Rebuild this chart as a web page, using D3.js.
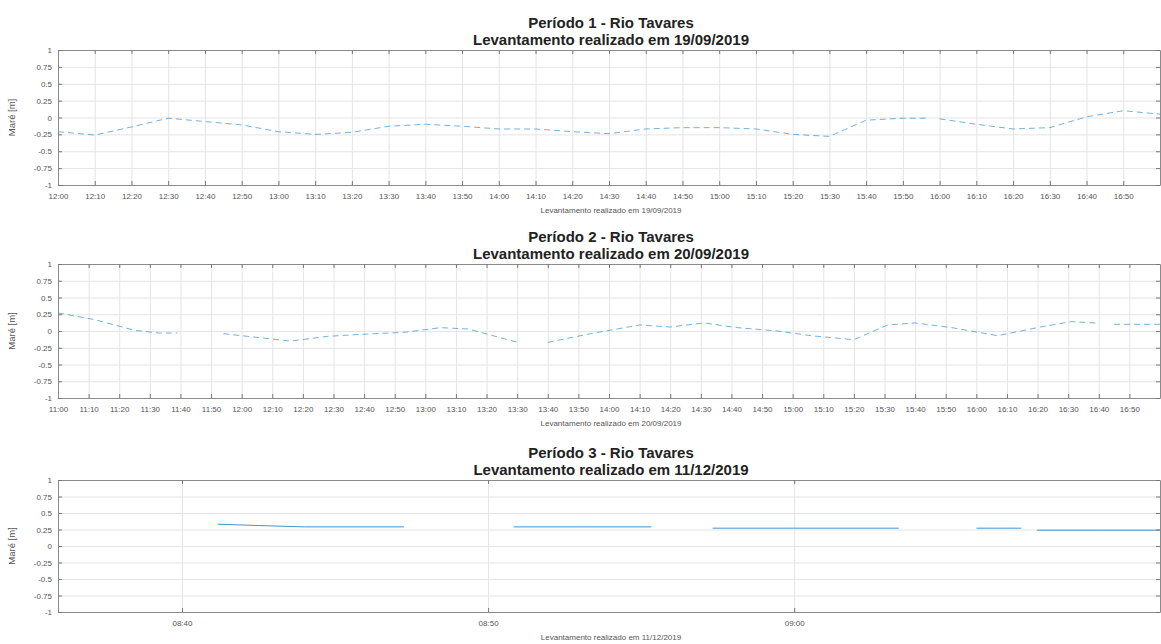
<!DOCTYPE html>
<html>
<head>
<meta charset="utf-8">
<script src="https://cdn.jsdelivr.net/npm/d3@7"></script>
<style>
  body { margin: 0; background: #fff; }
  text { font-family: "Liberation Sans", Arial, sans-serif; }
</style>
</head>
<body>
<div id="plot"></div>
<script>
// values
const yTicks = [1, 0.75, 0.5, 0.25, 0, -0.25, -0.5, -0.75, -1];
const yTickLabels = ["1", "0.75", "0.5", "0.25", "0", "-0.25", "-0.5", "-0.75", "-1"];

const p1Times = ["12:00","12:10","12:20","12:30","12:40","12:50","13:00","13:10","13:20","13:30","13:40","13:50","14:00","14:10","14:20","14:30","14:40","14:50","15:00","15:10","15:20","15:30","15:40","15:50","15:57","15:58","16:00","16:10","16:20","16:30","16:40","16:50","17:00"];
const p1Values = [-0.21,-0.26,-0.14,-0.01,-0.06,-0.11,-0.21,-0.25,-0.22,-0.13,-0.1,-0.13,-0.17,-0.17,-0.21,-0.24,-0.17,-0.15,-0.15,-0.17,-0.25,-0.28,-0.04,-0.01,-0.01,null,-0.02,-0.1,-0.17,-0.15,0.01,0.1,0.05];
const p1TickLabels = ["12:00","12:10","12:20","12:30","12:40","12:50","13:00","13:10","13:20","13:30","13:40","13:50","14:00","14:10","14:20","14:30","14:40","14:50","15:00","15:10","15:20","15:30","15:40","15:50","16:00","16:10","16:20","16:30","16:40","16:50"];

const p2Times = ["11:00","11:12","11:25","11:33","11:39","11:40","11:54","12:02","12:16","12:28","12:39","12:53","13:05","13:14","13:31","13:32","13:40","13:54","14:10","14:20","14:31","14:42","14:55","15:06","15:20","15:31","15:40","15:52","16:07","16:21","16:31","16:39","16:40","16:45","17:00"];
const p2Values = [0.27,0.17,0.01,-0.03,-0.03,null,-0.04,-0.08,-0.15,-0.08,-0.05,-0.02,0.05,0.03,-0.18,null,-0.17,-0.04,0.09,0.06,0.12,0.05,0,-0.07,-0.13,0.09,0.12,0.05,-0.07,0.06,0.14,0.12,null,0.1,0.1];
const p2TickLabels = ["11:00","11:10","11:20","11:30","11:40","11:50","12:00","12:10","12:20","12:30","12:40","12:50","13:00","13:10","13:20","13:30","13:40","13:50","14:00","14:10","14:20","14:30","14:40","14:50","15:00","15:10","15:20","15:30","15:40","15:50","16:00","16:10","16:20","16:30","16:40","16:50"];

const p3Times = ["08:41:10","08:42:30","08:44:00","08:47:15","08:48:00","08:50:50","08:53:00","08:55:20","08:56:00","08:57:20","09:00:00","09:03:25","09:04:00","09:05:57","09:07:25","09:07:40","09:07:56","09:10:00","09:11:57"];
const p3Values = [0.33,0.31,0.29,0.29,null,0.29,0.29,0.29,null,0.27,0.27,0.27,null,0.27,0.27,null,0.24,0.24,0.24];
const p3TickLabels = ["08:40","08:50","09:00"];

const width = 1161, height = 644;
const left = 58, right = 1160;

const parseHM = d3.timeParse("%H:%M");
const parseHMS = d3.timeParse("%H:%M:%S");

const svg = d3.select("div#plot")
  .append("svg")
    .attr("width", width)
    .attr("height", height)
    .style("background", "#fff");

function drawPanel(cfg) {
  const x = d3.scaleTime().domain(cfg.domain).range([left, right]);
  const y = d3.scaleLinear().domain([-1, 1]).range([cfg.bottom, cfg.top]);
  const tickDates = cfg.tickLabels.map(parseHM);
  const h = cfg.bottom - cfg.top;

  const g = svg.append("g");

  // grid
  g.append("g")
    .attr("transform", `translate(0,${cfg.bottom})`)
    .call(d3.axisBottom(x).tickValues(tickDates).tickSize(-h).tickFormat(""))
    .call(a => a.select(".domain").remove())
    .call(a => a.selectAll("line").attr("stroke", "#e4e4e4"));
  g.append("g")
    .attr("transform", `translate(${left},0)`)
    .call(d3.axisLeft(y).tickValues(yTicks).tickSize(-(right - left)).tickFormat(""))
    .call(a => a.select(".domain").remove())
    .call(a => a.selectAll("line").attr("stroke", "#e4e4e4"));

  // data line
  const data = cfg.times.map((t, i) => ({ t: cfg.parse(t), v: cfg.values[i] }));
  const line = d3.line()
    .defined(d => d.v !== null)
    .x(d => x(d.t))
    .y(d => y(d.v));
  g.append("path")
    .datum(data)
    .attr("d", line)
    .attr("fill", "none")
    .attr("stroke", "#0072BD")
    .attr("stroke-opacity", cfg.dashed ? 0.55 : 0.75)
    .attr("stroke-width", 1)
    .attr("stroke-dasharray", cfg.dashed ? "6,4" : null);

  // axes, ticks pointing in
  const fmtY = (d, i) => yTickLabels[i];
  const fmtX = (d, i) => cfg.tickLabels[i];
  const ax = [
    g.append("g").attr("transform", `translate(0,${cfg.bottom})`)
      .call(d3.axisBottom(x).tickValues(tickDates).tickSizeInner(-4).tickSizeOuter(0).tickPadding(8).tickFormat(fmtX)),
    g.append("g").attr("transform", `translate(0,${cfg.top})`)
      .call(d3.axisTop(x).tickValues(tickDates).tickSizeInner(-4).tickSizeOuter(0).tickFormat("")),
    g.append("g").attr("transform", `translate(${left},0)`)
      .call(d3.axisLeft(y).tickValues(yTicks).tickSizeInner(-4).tickSizeOuter(0).tickPadding(6).tickFormat(fmtY)),
    g.append("g").attr("transform", `translate(${right},0)`)
      .call(d3.axisRight(y).tickValues(yTicks).tickSizeInner(-4).tickSizeOuter(0).tickFormat(""))
  ];
  ax.forEach(a => {
    a.select(".domain").attr("stroke", "#8a8a8a");
    a.selectAll(".tick line").attr("stroke", "#777");
    a.selectAll("text").attr("fill", "#555").style("font-size", "8px");
  });

  // titles
  g.append("text")
    .attr("x", 611).attr("y", cfg.top - 22)
    .attr("text-anchor", "middle")
    .style("font-size", "15px").style("font-weight", "bold")
    .attr("fill", "#222")
    .text(cfg.title1);
  g.append("text")
    .attr("x", 611).attr("y", cfg.top - 5)
    .attr("text-anchor", "middle")
    .style("font-size", "15px").style("font-weight", "bold")
    .attr("fill", "#222")
    .text(cfg.title2);

  // x label
  g.append("text")
    .attr("x", 611).attr("y", cfg.bottom + 28)
    .attr("text-anchor", "middle")
    .style("font-size", "8px")
    .attr("fill", "#555")
    .text(cfg.xlabel);

  // y label
  g.append("text")
    .attr("transform", `translate(15,${(cfg.top + cfg.bottom) / 2}) rotate(-90)`)
    .attr("text-anchor", "middle")
    .style("font-size", "9.5px")
    .attr("fill", "#555")
    .text("Maré [m]");
}

drawPanel({
  top: 50, bottom: 185,
  domain: [parseHM("12:00"), parseHM("17:00")],
  times: p1Times, values: p1Values, parse: parseHM, dashed: true,
  tickLabels: p1TickLabels,
  title1: "Período 1 - Rio Tavares",
  title2: "Levantamento realizado em 19/09/2019",
  xlabel: "Levantamento realizado em 19/09/2019"
});

drawPanel({
  top: 264, bottom: 398,
  domain: [parseHM("11:00"), parseHM("17:00")],
  times: p2Times, values: p2Values, parse: parseHM, dashed: true,
  tickLabels: p2TickLabels,
  title1: "Período 2 - Rio Tavares",
  title2: "Levantamento realizado em 20/09/2019",
  xlabel: "Levantamento realizado em 20/09/2019"
});

drawPanel({
  top: 480, bottom: 612,
  domain: [parseHMS("08:35:57"), parseHMS("09:11:57")],
  times: p3Times, values: p3Values, parse: parseHMS, dashed: false,
  tickLabels: p3TickLabels,
  title1: "Período 3 - Rio Tavares",
  title2: "Levantamento realizado em 11/12/2019",
  xlabel: "Levantamento realizado em 11/12/2019"
});
</script>
</body>
</html>
